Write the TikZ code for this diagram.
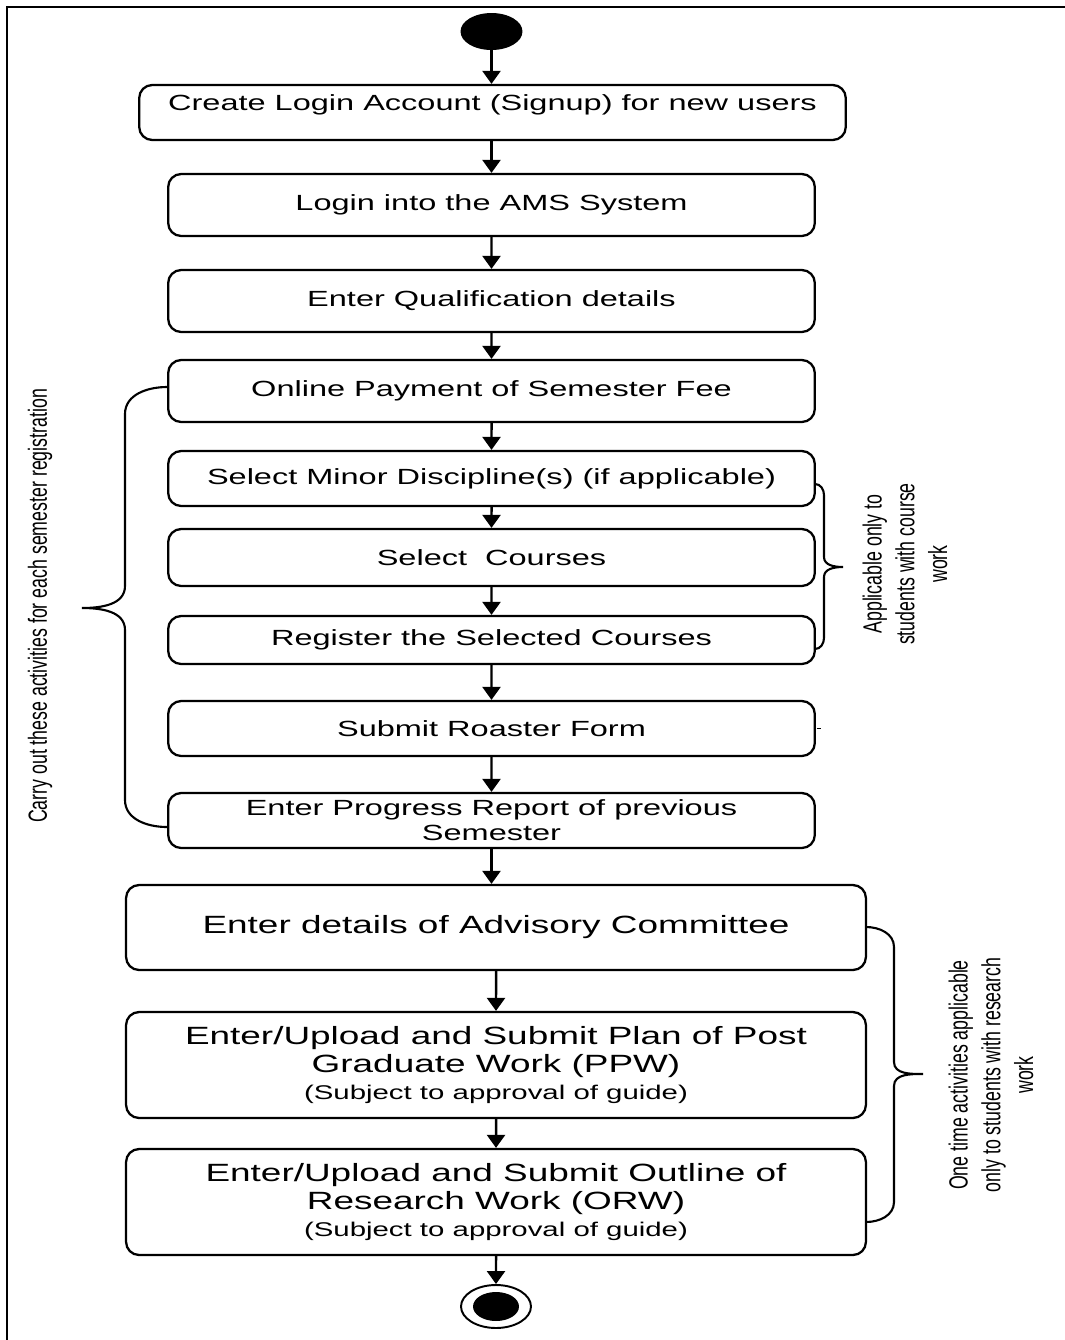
\documentclass[tikz,border=0pt]{standalone}
\usepackage{fontspec}
\setmainfont{Liberation Sans}
\usetikzlibrary{arrows.meta,shapes.geometric}
\begin{document}
\begin{tikzpicture}[x=0.02cm,y=-0.02cm,
    act/.style={draw,line width=1.3pt,rounded corners=0.26cm,xscale=1.48,inner sep=0pt,align=center},
    small/.style={act,minimum width=8.74cm,font=\fontsize{12.5}{14.2}\selectfont},
    big/.style={act,minimum width=10cm,font=\fontsize{14.2}{15.9}\selectfont},
    flow/.style={line width=1.4pt,-{Triangle[width=0.36cm,length=0.26cm]}},
    brace/.style={line width=1.2pt},
    note/.style={font=\fontsize{10.1}{12.6}\selectfont,align=center,inner sep=0pt,xscale=1.48,rotate=90}]
  \useasboundingbox (0,0) rectangle (1065,1340);
  \draw[line width=1.1pt] (1065,7) -- (7,7) -- (7,1340);
  % activities
  \node[ellipse,fill,inner sep=0pt,minimum width=1.24cm,minimum height=0.74cm] (start) at (491.5,31.5) {};
  \node[small,minimum width=9.55cm,minimum height=1.1cm,text depth=10.9pt] (signup) at (492.5,112.5) {Create Login Account (Signup) for new users};
  \node[small,minimum height=1.24cm] (login) at (491.5,205) {Login into the AMS System};
  \node[small,minimum height=1.24cm] (qual) at (491.5,301) {Enter Qualification details};
  \node[small,minimum height=1.24cm] (fee) at (491.5,391) {Online Payment of Semester Fee};
  \node[small,minimum height=1.1cm] (minor) at (491.5,478.5) {Select Minor Discipline(s) (if applicable)};
  \node[small,minimum height=1.14cm] (courses) at (491.5,557.5) {Select~ Courses};
  \node[small,minimum height=0.96cm] (register) at (491.5,640) {Register the Selected Courses};
  \node[small,minimum height=1.1cm] (roaster) at (491.5,728.5) {Submit Roaster Form};
  \node[small,minimum height=1.1cm] (progress) at (491.5,820.5) {Enter Progress Report of previous\\Semester};
  \node[big,minimum height=1.7cm] (advisory) at (496,927.5) {Enter details of Advisory Committee};
  \node[big,minimum height=2.12cm] (ppw) at (496,1065) {Enter/Upload and Submit Plan of Post\\Graduate Work (PPW)\\[-1pt]{\fontsize{11.3}{13}\selectfont(Subject to approval of guide)}};
  \node[big,minimum height=2.12cm] (orw) at (496,1202) {Enter/Upload and Submit Outline of\\Research Work (ORW)\\[-1pt]{\fontsize{11.3}{13}\selectfont(Subject to approval of guide)}};
  \node[ellipse,draw,line width=1.1pt,inner sep=0pt,minimum width=1.4cm,minimum height=0.86cm] (stop) at (496,1306.5) {};
  \node[ellipse,fill,inner sep=0pt,minimum width=0.92cm,minimum height=0.58cm] (stopdot) at (stop.center) {};
  % flow
  \draw[flow] (start.south) -- (start.south |- signup.north);
  \draw[flow] (login.north |- signup.south) -- (login.north);
  \draw[flow] (login) -- (qual);
  \draw[flow] (qual) -- (fee);
  \draw[flow] (fee) -- (minor);
  \draw[flow] (minor) -- (courses);
  \draw[flow] (courses) -- (register);
  \draw[flow] (register) -- (roaster);
  \draw[flow] (roaster) -- (progress);
  \draw[flow] (progress.south) -- (progress.south |- advisory.north);
  \draw[flow] (advisory) -- (ppw);
  \draw[flow] (ppw) -- (orw);
  \draw[flow] (orw) -- (stop);
  \draw[line width=1pt] (roaster.east) -- ++(4,0);
  % braces and notes
  \draw[brace] (167,387) to[out=180,in=90] (125,414) -- (125,586) to[out=-90,in=0] (82,608)
    to[out=0,in=90] (125,630) -- (125,800) to[out=-90,in=180] (167,827);
  \draw[brace] (815,484) to[out=0,in=90] (824,495) -- (824,557) to[out=-90,in=180] (843,567)
    to[out=180,in=90] (824,577) -- (824,638) to[out=-90,in=0] (815,649);
  \draw[brace] (866,927) to[out=0,in=90] (894,947) -- (894,1062) to[out=-90,in=180] (923,1074)
    to[out=180,in=90] (894,1086) -- (894,1202) to[out=-90,in=0] (866,1222);
  \node[note] (semnote) at (40,606) {Carry out these activities for each semester registration};
  \node[note] (coursenote) at (905,564) {Applicable only to\\students with course\\work};
  \node[note] (researchnote) at (991,1075) {One time activities applicable\\only to students with research\\work};
\end{tikzpicture}
\end{document}
